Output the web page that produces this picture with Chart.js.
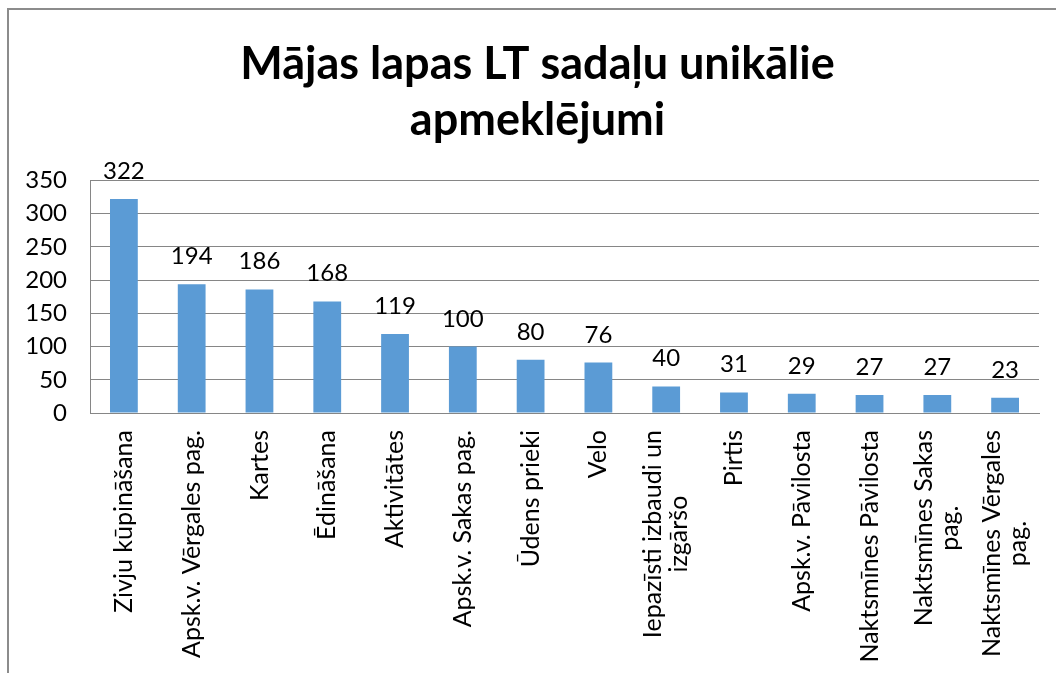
<!DOCTYPE html>
<html>
<head>
<meta charset="utf-8">
<script src="https://cdn.jsdelivr.net/npm/chart.js@4/dist/chart.umd.min.js"></script>
<style>
  html, body { margin: 0; padding: 0; background: #fff; overflow: hidden; }
  #wrap { position: relative; width: 1056px; height: 673px; }
  #frame { position: absolute; left: 7px; top: 8px; width: 1100px; height: 700px;
           border-top: 2px solid #8c8c8c; border-left: 2px solid #8c8c8c; pointer-events: none; }
</style>
</head>
<body>
<div id="wrap">
  <canvas id="chart01" width="1056" height="673"></canvas>
  <div id="frame"></div>
</div>
<script>
// dati
var categories = [
  'Zivju kūpināšana',
  'Apsk.v. Vērgales pag.',
  'Kartes',
  'Ēdināšana',
  'Aktivitātes',
  'Apsk.v. Sakas pag.',
  'Ūdens prieki',
  'Velo',
  ['Iepazīsti izbaudi un', 'izgāršo'],
  'Pirtis',
  'Apsk.v. Pāvilosta',
  'Naktsmīnes Pāvilosta',
  ['Naktsmīnes Sakas', 'pag.'],
  ['Naktsmīnes Vērgales', 'pag.']
];
var visits = [322, 194, 186, 168, 119, 100, 80, 76, 40, 31, 29, 27, 27, 23];
var yTicks = [0, 50, 100, 150, 200, 250, 300, 350];
var titleLines = ['Mājas lapas LT sadaļu unikālie', 'apmeklējumi'];

var FONT = 'Lato, "Open Sans", sans-serif';

// vērtības virs stabiņiem
var valueLabels = {
  id: 'valueLabels',
  afterDatasetsDraw: function (chart) {
    var ctx = chart.ctx;
    chart.data.datasets.forEach(function (dataset, i) {
      var meta = chart.getDatasetMeta(i);
      if (meta.hidden) return;
      meta.data.forEach(function (bar, index) {
        ctx.save();
        ctx.fillStyle = '#000';
        ctx.font = '24px ' + FONT;
        ctx.textAlign = 'center';
        ctx.textBaseline = 'alphabetic';
        ctx.fillText(dataset.data[index].toString(), bar.x, bar.y - 20);
        ctx.restore();
      });
    });
  }
};

// X ass uzraksti, pagriezti un centrēti kā Excel
var xLabels = {
  id: 'xLabels',
  afterDraw: function (chart) {
    var ctx = chart.ctx;
    var xs = chart.scales.x;
    ctx.save();
    ctx.font = '25px ' + FONT;
    ctx.fillStyle = '#000';
    ctx.textAlign = 'center';
    ctx.textBaseline = 'middle';
    chart.data.labels.forEach(function (lab, i) {
      var lines = Array.isArray(lab) ? lab : [lab];
      var maxW = Math.max.apply(null, lines.map(function (l) { return ctx.measureText(l).width; }));
      var lh = 26;
      var x = xs.getPixelForValue(i);
      var top = xs.top + 17;
      ctx.save();
      ctx.translate(x, top + maxW / 2);
      ctx.rotate(-Math.PI / 2);
      lines.forEach(function (l, j) {
        ctx.fillText(l, 0, (j - (lines.length - 1) / 2) * lh);
      });
      ctx.restore();
    });
    ctx.restore();
  }
};

// virsraksts nedaudz pa labi (kā oriģinālā)
var titleShift = {
  id: 'titleShift',
  afterLayout: function (chart) {
    if (chart.titleBlock) chart.titleBlock.left += 26;
  }
};

var ctx = document.getElementById('chart01');
var chart = new Chart(ctx, {
  type: 'bar',
  data: {
    labels: categories,
    datasets: [{
      label: 'Unikālie apmeklējumi',
      backgroundColor: '#5B9BD5',
      data: visits,
      categoryPercentage: 1,
      barPercentage: 0.41
    }]
  },
  options: {
    responsive: false,
    animation: false,
    layout: { padding: { left: 10, right: 17, top: 0, bottom: 0 } },
    plugins: {
      legend: { display: false },
      tooltip: { enabled: false },
      title: {
        display: true,
        text: titleLines,
        color: '#000',
        font: { family: FONT, size: 45, weight: 'bold', lineHeight: 1.25 },
        padding: { top: 36, bottom: 32 }
      }
    },
    scales: {
      x: {
        grid: { display: true, color: 'transparent', drawTicks: false },
        border: { display: true, color: '#868686', width: 1 },
        ticks: { display: false },
        afterFit: function (s) { s.height = 260; }
      },
      y: {
        min: 0,
        max: 350,
        afterBuildTicks: function (s) { s.ticks = yTicks.map(function (v) { return { value: v }; }); },
        grid: { color: '#868686', drawTicks: false },
        border: { display: true, color: '#868686', width: 1 },
        ticks: { color: '#000', padding: 23, font: { family: FONT, size: 24 } },
        afterFit: function (s) { s.width = 80; }
      }
    }
  },
  plugins: [valueLabels, xLabels, titleShift]
});
</script>
</body>
</html>
